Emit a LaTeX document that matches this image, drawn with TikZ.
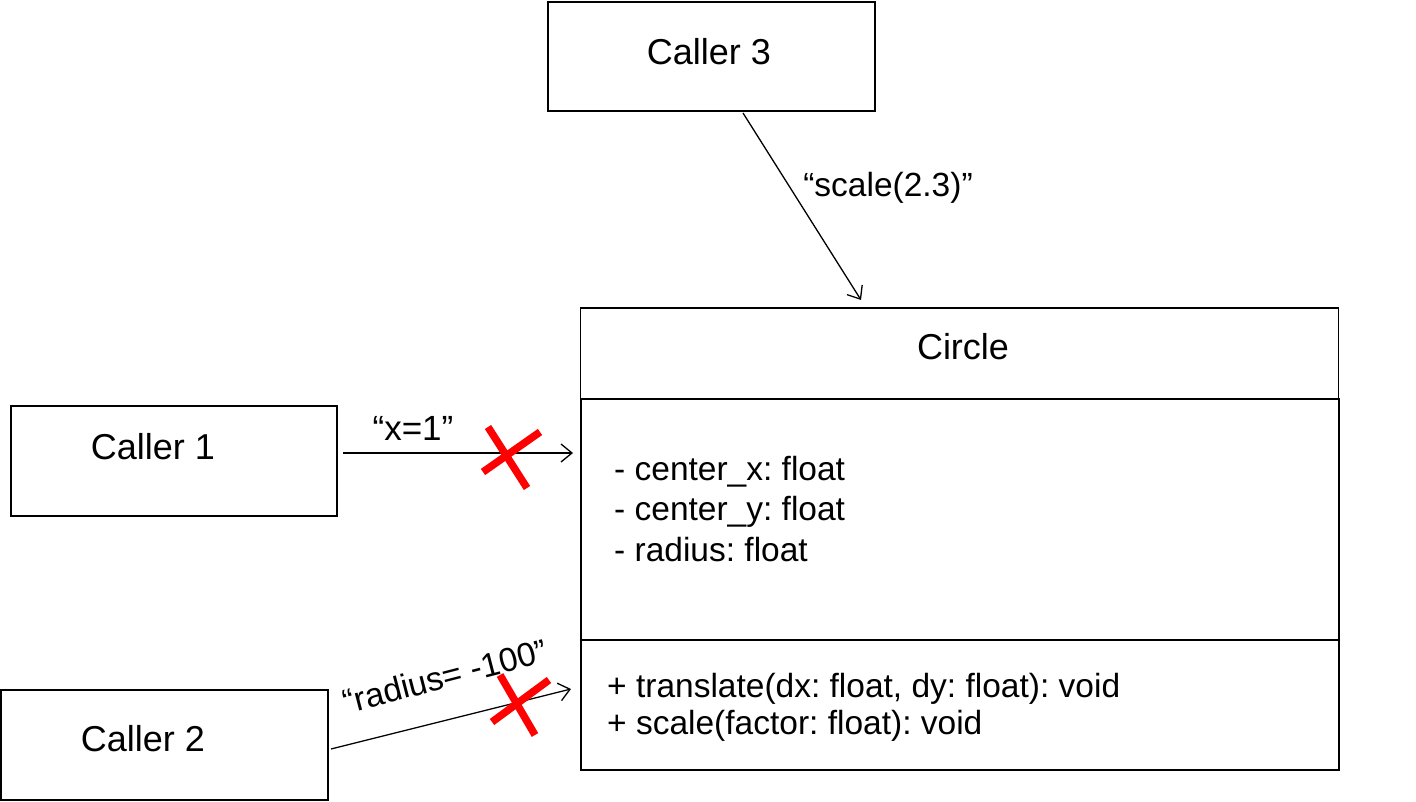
\documentclass[tikz,border=0pt]{standalone}
\usepackage{fontspec}
\setmainfont{Liberation Sans}
\usetikzlibrary{arrows.meta}
\frenchspacing
\tikzset{
  box/.style={draw=black, line width=1.5pt, inner sep=0pt},
  big/.style={font=\fontsize{36}{40}\selectfont, inner sep=0pt},
  body/.style={font=\fontsize{33.5}{40}\selectfont, inner sep=0pt},
  conn/.style={draw=black, line width=1.3pt, -{Straight Barb[length=11pt,width=18pt,line width=1.3pt]}},
  cross/.style={draw=red, line width=7.5pt}
}
\begin{document}
\begin{tikzpicture}[x=1pt,y=-1pt]
\useasboundingbox (0,0) rectangle (1416,802);
% caller boxes
\node[box, minimum width=327pt, minimum height=109pt] (c3) at (711.5,56.5) {};
\node[big] (c3t) at (709,52) {Caller 3};
\node[box, minimum width=326pt, minimum height=110pt] (c1) at (174,461) {};
\node[big] (c1t) at (153,447) {Caller 1};
\node[box, minimum width=327pt, minimum height=110pt] (c2) at (164.5,745) {};
\node[big] (c2t) at (143,739) {Caller 2};
% class box
\node[box, minimum width=758pt, minimum height=91pt] (title) at (959.5,353.5) {};
\node[big] (titlet) at (963,347) {Circle};
\node[box, minimum width=758pt, minimum height=241pt] (attrs) at (960,519.5) {};
\node[box, minimum width=758pt, minimum height=130pt] (meths) at (960,705) {};
\node[body, anchor=west, align=left, font=\fontsize{33.5}{40.5}\selectfont\frenchspacing] (attrt) at (614,509)
  {- center\_x: float\\- center\_y: float\\- radius: float};
\node[body, anchor=west, align=left, font=\fontsize{33.5}{37}\selectfont\frenchspacing] (metht) at (607,707)
  {+ translate(dx: float, dy: float): void\\+ scale(factor: float): void};
% connector end points
\coordinate (s3) at (743,113);
\coordinate (e3) at (861,300);
\coordinate (s1) at (343,453);
\coordinate (e1) at (573,453);
\coordinate (s2) at (331,749);
\coordinate (e2) at (571,689);
\draw[conn] (s3) -- (e3);
\draw[conn] (s1) -- (e1);
\draw[conn] (s2) -- (e2);
% labels
\node[body] (l3) at (888,188) {“scale(2.3)”};
\node[body, font=\fontsize{35}{40}\selectfont] (l1) at (413,428) {“x=1”};
\node[body, rotate=14.5] (l2) at (445,676) {“radius= -100”};
% crosses
\coordinate (x1a) at (488,427); \coordinate (x1b) at (527,488);
\coordinate (x1c) at (540,432); \coordinate (x1d) at (483,472);
\draw[cross] (x1a) -- (x1b);
\draw[cross] (x1c) -- (x1d);
\coordinate (x2a) at (500,675); \coordinate (x2b) at (535,735);
\coordinate (x2c) at (549,680); \coordinate (x2d) at (492,722);
\draw[cross] (x2a) -- (x2b);
\draw[cross] (x2c) -- (x2d);
\end{tikzpicture}
\end{document}
